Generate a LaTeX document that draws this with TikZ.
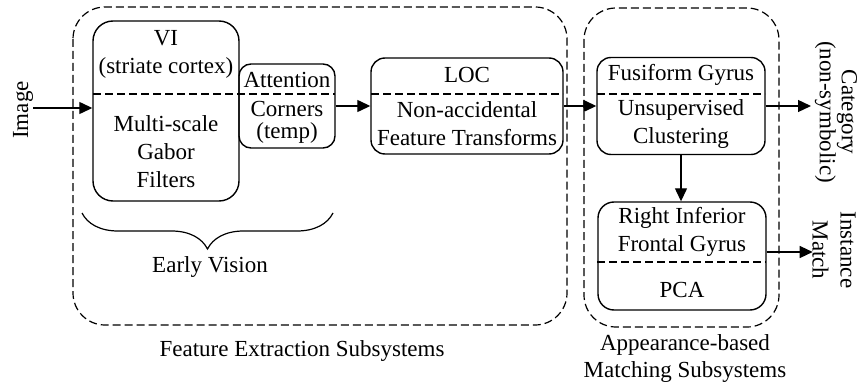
\documentclass[tikz,border=0pt]{standalone}
\usepackage{fontspec}
\setmainfont{Liberation Serif}
\usetikzlibrary{arrows.meta,decorations.pathreplacing}
\begin{document}
\begin{tikzpicture}[x=1pt,y=-1pt,
  every node/.style={font=\fontsize{23}{28}\selectfont, inner sep=0pt, align=center},
  dsh/.style={line width=1.2pt, dash pattern=on 8pt off 4pt},
  group/.style={dsh, rounded corners=32pt},
  box/.style={draw, line width=1.4pt, rounded corners=14pt},
  divider/.style={line width=1.2pt, dash pattern=on 8pt off 4pt},
  arr/.style={line width=1.3pt, -{Triangle[length=13pt,width=12pt]}},
  tight/.style={font=\fontsize{23}{22}\selectfont}]
\useasboundingbox (0,0) rectangle (862,385);
% group boxes
\draw[group] (73,7) rectangle (567,325);
\draw[group] (584,8) rectangle (779,327);
% boxes
\node[box, rounded corners=20pt, minimum width=146pt, minimum height=180pt] (vi) at (166,111) {};
\node[box, rounded corners=12pt, minimum width=96pt, minimum height=84pt] (att) at (287,106) {};
\node[box, minimum width=192pt, minimum height=96pt] (loc) at (467,106) {};
\node[box, minimum width=168pt, minimum height=97pt] (fus) at (681,106) {};
\node[box, rounded corners=16pt, minimum width=168pt, minimum height=108pt] (rif) at (682,256) {};
% dividers
\draw[divider] (93,94) -- (335,94);
\draw[divider] (371,94) -- (563,94);
\draw[divider] (597,94) -- (765,94);
\draw[divider] (597,262) -- (766,262);
% texts
\node (vit) at (166,54) {VI\\(striate cortex)};
\node (vib) at (166,152) {Multi-scale\\Gabor\\Filters};
\node (att1) at (287,80) {Attention};
\node[tight] (att2) at (287,122) {Corners\\(temp)};
\node (loct) at (467,75) {LOC};
\node (locb) at (467,124) {Non-accidental\\Feature Transforms};
\node (fust) at (681,75) {Fusiform Gyrus};
\node (fusb) at (681,124) {Unsupervised\\Clustering};
\node (rift) at (682,232) {Right Inferior\\Frontal Gyrus};
\node (rifb) at (682,290) {PCA};
% outer labels
\node[rotate=90] (img) at (23,110) {Image};
\node[rotate=-90, tight] (cat) at (836,112) {Category\\(non-symbolic)};
\node[rotate=-90] (inst) at (834,250) {Instance\\Match};
\node (ev) at (210,267) {Early Vision};
\node (fes) at (302,351) {Feature Extraction Subsystems};
\node[font=\fontsize{23}{27}\selectfont] (ams) at (685,358) {Appearance-based\\Matching Subsystems};
% brace
\draw[line width=1.2pt, decorate, decoration={brace, amplitude=36pt}] (333,213) -- (82,213);
% connectors
\coordinate (imgstart) at (33,108);
\coordinate (catend) at (811,106);
\draw[arr] (imgstart) -- (imgstart -| vi.west);
\draw[arr] (att.east) -- (loc.west);
\draw[arr] (loc.east) -- (fus.west);
\draw[arr] (fus.east) -- (catend);
\draw[arr] (fus.south) -- (fus.south |- rif.north);
\draw[arr] ([yshift=4pt]rif.east) -- ++(46,0) coordinate (instend);
\end{tikzpicture}
\end{document}
